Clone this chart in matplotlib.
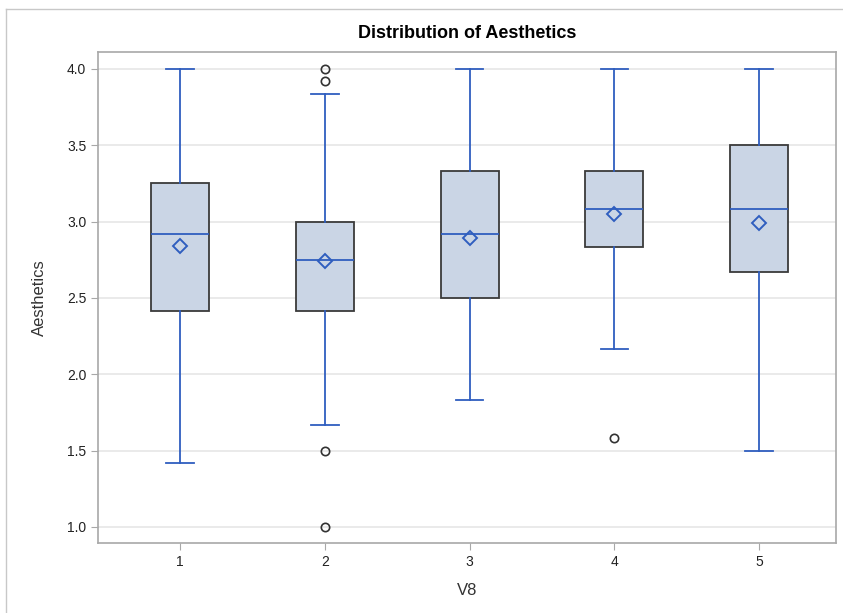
import matplotlib
matplotlib.use("Agg")
import matplotlib.pyplot as plt
from matplotlib.lines import Line2D

plt.rcParams['font.family'] = ['Liberation Sans Narrow', 'Liberation Sans', 'DejaVu Sans']

# Box plot summary per V8 group
groups = ['1', '2', '3', '4', '5']
whislo = [1.417, 1.667, 1.833, 2.167, 1.5]
q1 = [2.417, 2.417, 2.5, 2.833, 2.667]
med = [2.917, 2.75, 2.917, 3.083, 3.083]
q3 = [3.25, 3.0, 3.333, 3.333, 3.5]
whishi = [4.0, 3.833, 4.0, 4.0, 4.0]
means = [2.84, 2.74, 2.89, 3.05, 2.99]
fliers = [[], [4.0, 3.917, 1.5, 1.0], [], [1.583], []]

blue = '#2F5EBF'
stats = []
for i in range(len(groups)):
    stats.append(dict(label=groups[i], whislo=whislo[i], q1=q1[i], med=med[i],
                      q3=q3[i], whishi=whishi[i], mean=means[i], fliers=fliers[i]))

fig = plt.figure(figsize=(8.43, 6.13), dpi=100)
ax = fig.add_axes([0.1163, 0.1142, 0.8754, 0.801])

ax.bxp(stats, positions=range(1, 6), widths=0.4, showmeans=True, patch_artist=True,
       boxprops=dict(facecolor='#CAD5E5', edgecolor='#3A3A3A', linewidth=1.3),
       whiskerprops=dict(color=blue, linewidth=1.3),
       capprops=dict(color=blue, linewidth=1.3),
       capwidths=0.19,
       medianprops=dict(color=blue, linewidth=1.3),
       meanprops=dict(marker='D', markerfacecolor='none', markeredgecolor=blue,
                      markersize=7, markeredgewidth=1.4),
       flierprops=dict(marker='o', markerfacecolor='none', markeredgecolor='#333333',
                       markersize=6, markeredgewidth=1.2))

ax.set_xlim(0.434, 5.53)
ax.set_ylim(0.895, 4.11)
ax.set_yticks([1.0, 1.5, 2.0, 2.5, 3.0, 3.5, 4.0])
ax.set_yticklabels(['1.0', '1.5', '2.0', '2.5', '3.0', '3.5', '4.0'])
ax.grid(axis='y', color='#E6E6E6', linewidth=1.2)
ax.set_axisbelow(True)
for s in ax.spines.values():
    s.set_color('#A8A8A8')
    s.set_linewidth(1.2)
ax.tick_params(colors='#A8A8A8', labelcolor='#222222', labelsize=10, length=5)

ax.set_title('Distribution of Aesthetics', fontsize=13, fontweight='bold', pad=10)
ax.set_xlabel('V8', fontsize=12, color='#333333', labelpad=10)
ax.set_ylabel('Aesthetics', fontsize=12, color='#333333', labelpad=14)

# outer frame (left and top edges visible in the reference)
fig.add_artist(Line2D([6/843, 6/843], [0, 1 - 9/613], transform=fig.transFigure, color='#C8C8C8', linewidth=1))
fig.add_artist(Line2D([6/843, 1], [1 - 9/613, 1 - 9/613], transform=fig.transFigure, color='#C8C8C8', linewidth=1))

fig.savefig('out.png', dpi=100)
